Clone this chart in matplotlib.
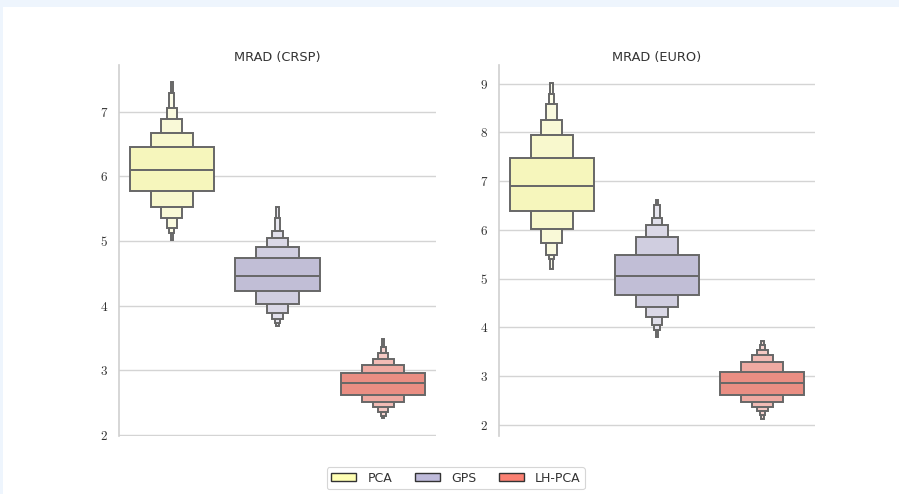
import colorsys
import matplotlib
matplotlib.use("Agg")
import matplotlib.pyplot as plt
import matplotlib.colors as mcolors
from matplotlib.patches import Rectangle, Patch

# Methods compared and their palette colours
methods = ["PCA", "GPS", "LH-PCA"]
method_colors = ["#ffffb3", "#bebada", "#fb8072"]

# Letter values for MRAD on CRSP (median, then lower / upper edges from the
# innermost box outwards)
crsp_median = [6.10, 4.46, 2.80]
crsp_lower = [
    [5.77, 5.53, 5.36, 5.20, 5.12, 5.02],
    [4.22, 4.03, 3.89, 3.80, 3.73, 3.68],
    [2.62, 2.51, 2.43, 2.36, 2.30, 2.26],
]
crsp_upper = [
    [6.46, 6.67, 6.88, 7.06, 7.29, 7.45],
    [4.73, 4.91, 5.05, 5.16, 5.35, 5.52],
    [2.96, 3.08, 3.18, 3.27, 3.36, 3.49],
]

# Letter values for MRAD on EURO
euro_median = [6.89, 5.06, 2.86]
euro_lower = [
    [6.38, 6.01, 5.73, 5.49, 5.41, 5.19],
    [4.67, 4.41, 4.22, 4.05, 3.94, 3.80],
    [2.62, 2.48, 2.36, 2.29, 2.21, 2.13],
]
euro_upper = [
    [7.48, 7.95, 8.26, 8.58, 8.78, 9.02],
    [5.49, 5.86, 6.10, 6.25, 6.50, 6.61],
    [3.09, 3.29, 3.43, 3.53, 3.64, 3.72],
]

panel_titles = ["MRAD (CRSP)", "MRAD (EURO)"]
panel_ticks = [[2, 3, 4, 5, 6, 7], [2, 3, 4, 5, 6, 7, 8, 9]]
panel_ylims = [(1.985, 7.72), (1.775, 9.38)]

plt.rcParams["mathtext.fontset"] = "cm"
plt.rcParams["font.family"] = ["DejaVu Sans"]

EDGE = "#676767"
GRID = "#d4d4d4"


def desaturate(color, prop):
    r, g, b = mcolors.to_rgb(color)
    h, l, s = colorsys.rgb_to_hls(r, g, b)
    return colorsys.hls_to_rgb(h, l, s * prop)


def blend_white(rgb, t):
    return tuple(c * (1 - t) + t for c in rgb)


level_tint = [0.0, 0.25, 0.40, 0.52, 0.62, 0.70]


def draw_boxen(ax, medians, lowers, uppers):
    for i, (med, lo, hi) in enumerate(zip(medians, lowers, uppers)):
        base = desaturate(method_colors[i], 0.75)
        n = len(lo)
        for k in reversed(range(n)):
            w = 0.8 * 0.5 ** k
            ax.bar(i, hi[k] - lo[k], bottom=lo[k], width=w,
                   color=blend_white(base, level_tint[k]),
                   edgecolor=EDGE, linewidth=1.4, zorder=2 + (n - k) * 0.01)
        ax.plot([i - 0.4, i + 0.4], [med, med], color=EDGE, lw=1.4, zorder=3,
                solid_capstyle="butt")


fig = plt.figure(figsize=(8.99, 4.94), dpi=100)
fig.patch.set_facecolor("#eef5fd")
fig.patches.append(Rectangle((3 / 899, 0), 1, 1 - 7 / 494, transform=fig.transFigure,
                             facecolor="white", edgecolor="none", zorder=-10))

W, H = 899, 494
axes_px = [(119, 436), (499, 815)]
top_px, bot_px = 65, 436
data = [(crsp_median, crsp_lower, crsp_upper), (euro_median, euro_lower, euro_upper)]

for p in range(2):
    x0, x1 = axes_px[p]
    ax = fig.add_axes([x0 / W, 1 - bot_px / H, (x1 - x0) / W, (bot_px - top_px) / H])
    ax.set_facecolor("none")
    draw_boxen(ax, *data[p])
    ax.set_xlim(-0.5, 2.5)
    ax.set_ylim(*panel_ylims[p])
    ax.set_xticks([])
    ax.set_yticks(panel_ticks[p])
    ax.set_yticklabels([rf"${t}$" for t in panel_ticks[p]], fontsize=9.5, color="#333333")
    ax.tick_params(axis="y", length=0, pad=8)
    ax.yaxis.grid(True, color=GRID, lw=1.0, zorder=0)
    ax.set_axisbelow(True)
    for s in ["top", "right", "bottom"]:
        ax.spines[s].set_visible(False)
    ax.spines["left"].set_color("#cfcfcf")
    ax.spines["left"].set_linewidth(1.2)
    ax.set_title(panel_titles[p], fontsize=9.3, color="#333333", pad=3)

handles = [Patch(facecolor=c, edgecolor="#333333", lw=1.0) for c in method_colors]
leg = fig.legend(handles, methods, loc="center", bbox_to_anchor=(0.507, 0.032),
                 ncol=3, fontsize=9, frameon=True, handlelength=2.0, handleheight=0.6,
                 columnspacing=1.8, handletextpad=0.9, borderpad=0.35)
leg.get_frame().set_edgecolor("#cccccc")
leg.get_frame().set_linewidth(0.8)
for t in leg.get_texts():
    t.set_color("#333333")

fig.savefig("out.png", dpi=100)
